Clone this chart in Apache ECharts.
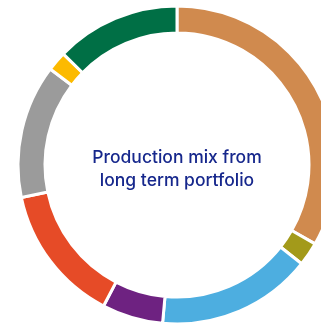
<!DOCTYPE html>
<html><head><meta charset="utf-8">
<script src="https://cdn.jsdelivr.net/npm/echarts@6/dist/echarts.min.js"></script>
<style>html,body{margin:0;padding:0;background:#fff}#c{width:321px;height:326px}</style>
</head><body><div id="c"></div>
<script>
const categories = ['Hydro', 'Biomass', 'Wind', 'Solar', 'Nuclear', 'Gas', 'Coal', 'Other'];
const values = [33.3, 2.4, 15.8, 6.2, 14.1, 13.6, 2.0, 12.7];
const colors = ['#D08A4E', '#A39A1A', '#4DAEE0', '#6E2281', '#E64B27', '#9B9B9B', '#FCBA00', '#006F45'];
const centerText = 'Production mix from\nlong term portfolio';

const chart = echarts.init(document.getElementById('c'), null, {renderer: 'canvas'});
chart.setOption({
  animation: false,
  series: [{
    type: 'pie',
    center: [177, 165],
    radius: [132, 159],
    startAngle: 90,
    clockwise: true,
    label: {show: false},
    labelLine: {show: false},
    emphasis: {disabled: true},
    itemStyle: {borderColor: '#fff', borderWidth: 3},
    data: categories.map((n, i) => ({name: n, value: values[i], itemStyle: {color: colors[i]}}))
  }],
  graphic: [{
    type: 'text',
    x: 177, y: 169,
    style: {
      text: centerText,
      fontFamily: 'Inter',
      fontSize: 17.5,
      fontWeight: 500,
      lineHeight: 23,
      fill: '#16278C',
      align: 'center',
      verticalAlign: 'middle'
    }
  }]
});
</script></body></html>
